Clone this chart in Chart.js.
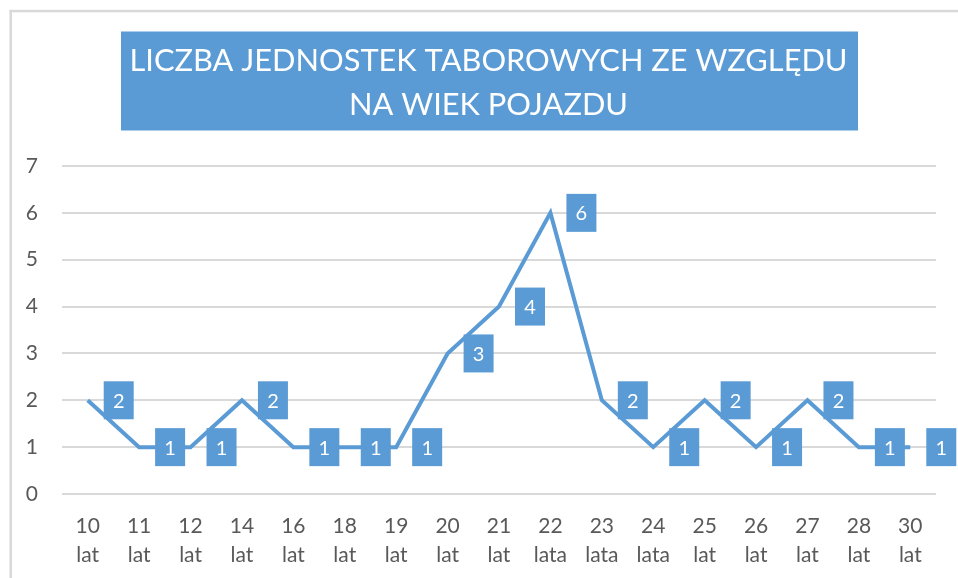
<!DOCTYPE html>
<html>
<head>
<meta charset="utf-8">
<script src="https://cdn.jsdelivr.net/npm/chart.js@4.4.1/dist/chart.umd.min.js"></script>
<style>
  html, body { margin: 0; padding: 0; background: #fff; }
  #wrap { position: relative; width: 958px; height: 578px; }
</style>
</head>
<body>
<div id="wrap"><canvas id="lineChart" width="958" height="578"></canvas></div>
<script>
// chart data
var ageLabels = [
  ['10', 'lat'], ['11', 'lat'], ['12', 'lat'], ['14', 'lat'], ['16', 'lat'],
  ['18', 'lat'], ['19', 'lat'], ['20', 'lat'], ['21', 'lat'], ['22', 'lata'],
  ['23', 'lata'], ['24', 'lata'], ['25', 'lat'], ['26', 'lat'], ['27', 'lat'],
  ['28', 'lat'], ['30', 'lat']
];
var unitCounts = [2, 1, 1, 2, 1, 1, 1, 3, 4, 6, 2, 1, 2, 1, 2, 1, 1];
var titleLines = ['LICZBA JEDNOSTEK TABOROWYCH ZE WZGLĘDU', 'NA WIEK POJAZDU'];

var blue = '#5B9BD5';
var grey = '#595959';

// frame + blue title box, drawn behind the chart
var backdrop = {
  id: 'backdrop',
  beforeDraw: function(chart) {
    var ctx = chart.ctx;
    ctx.save();
    ctx.fillStyle = '#d9d9d9';
    ctx.fillRect(9.5, 9.8, 2.5, 600);
    ctx.fillRect(9.5, 9.8, 960, 2.5);

    ctx.fillStyle = blue;
    ctx.fillRect(121, 31.5, 737, 99);

    ctx.fillStyle = '#ffffff';
    ctx.font = '31px Lato';
    ctx.textBaseline = 'alphabetic';
    ctx.textAlign = 'center';
    // squeeze the title a little so it matches the original narrow font
    var w = ctx.measureText(titleLines[0]).width;
    var sx = 718 / w;
    var baselines = [70.5, 114.5];
    titleLines.forEach(function(line, i) {
      ctx.save();
      ctx.translate(488.5, baselines[i]);
      ctx.scale(sx, 1);
      ctx.fillText(line, 0, 0);
      ctx.restore();
    });
    ctx.restore();
  }
};

// value boxes to the right of each point
var valueBoxes = {
  id: 'valueBoxes',
  afterDraw: function(chart) {
    var ctx = chart.ctx;
    var meta = chart.getDatasetMeta(0);
    ctx.save();
    ctx.font = '20px Lato';
    ctx.textAlign = 'center';
    ctx.textBaseline = 'middle';
    meta.data.forEach(function(pt, i) {
      var cx = pt.x + 31;
      var cy = pt.y;
      ctx.fillStyle = blue;
      ctx.fillRect(cx - 15, cy - 19, 30, 38);
      ctx.fillStyle = '#ffffff';
      ctx.fillText(String(unitCounts[i]), cx, cy + 1);
    });
    ctx.restore();
  }
};

var ctx = document.getElementById('lineChart').getContext('2d');
var chart = new Chart(ctx, {
  type: 'line',
  data: {
    labels: ageLabels,
    datasets: [{
      data: unitCounts,
      borderColor: blue,
      borderWidth: 4,
      pointRadius: 0,
      tension: 0,
      fill: false
    }]
  },
  options: {
    responsive: false,
    animation: false,
    layout: { padding: { left: 26, right: 22, top: 166, bottom: 4 } },
    plugins: {
      legend: { display: false },
      tooltip: { enabled: false }
    },
    scales: {
      x: {
        offset: true,
        border: { display: false },
        grid: { display: false, drawTicks: false },
        ticks: {
          color: grey,
          padding: 18,
          maxRotation: 0,
          autoSkip: false,
          font: { family: 'Lato', size: 21, lineHeight: 1.381 }
        },
        afterFit: function(scale) { scale.height = 80; }
      },
      y: {
        min: 0,
        max: 7,
        border: { display: false },
        grid: { color: '#d9d9d9', lineWidth: 2, drawTicks: false },
        ticks: {
          stepSize: 1,
          color: grey,
          padding: 24,
          font: { family: 'Lato', size: 21 }
        },
        afterFit: function(scale) { scale.width = 36; }
      }
    }
  },
  plugins: [backdrop, valueBoxes]
});
</script>
</body>
</html>
